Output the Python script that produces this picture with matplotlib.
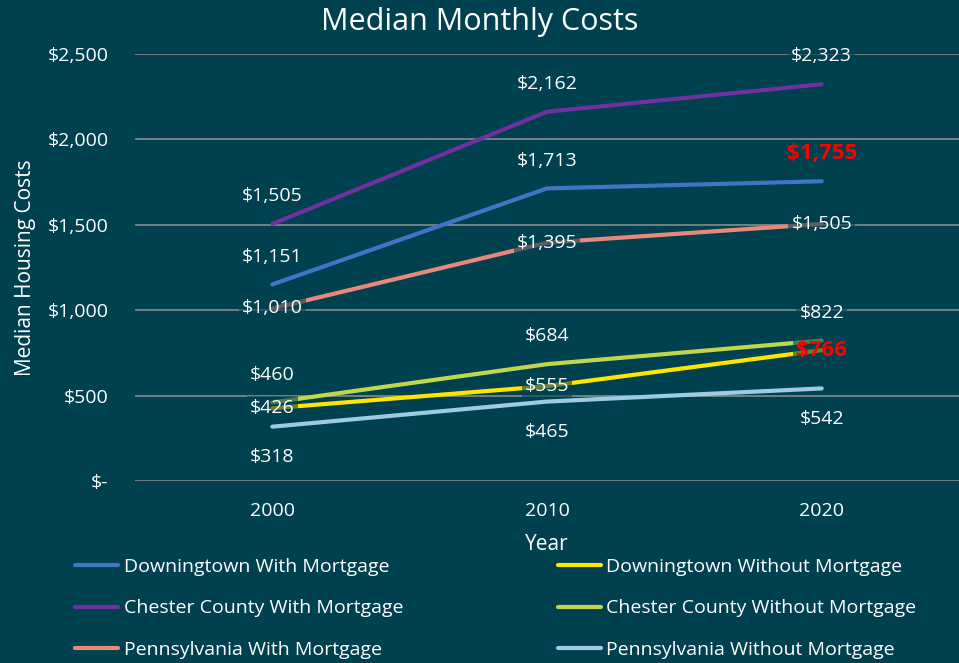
import matplotlib.pyplot as plt
from matplotlib.ticker import FuncFormatter

plt.rcParams['font.family'] = ['Open Sans', 'DejaVu Sans']

years = ['2000', '2010', '2020']
dt_with = [1151, 1713, 1755]
dt_without = [426, 555, 766]
cc_with = [1505, 2162, 2323]
cc_without = [460, 684, 822]
pa_with = [1010, 1395, 1505]
pa_without = [318, 465, 542]

bg = '#00414F'
fg = 'white'

# name, values, colour, label placement
series = [
    ('Downingtown With Mortgage', dt_with, '#4472C4', 'above'),
    ('Chester County With Mortgage', cc_with, '#7030A0', 'above'),
    ('Pennsylvania With Mortgage', pa_with, '#E9877A', 'center'),
    ('Downingtown Without Mortgage', dt_without, '#FFE500', 'center'),
    ('Chester County Without Mortgage', cc_without, '#C2D64C', 'above'),
    ('Pennsylvania Without Mortgage', pa_without, '#9DCBE6', 'below'),
]
# the last point of the two Downingtown series is highlighted
highlight = {'Downingtown With Mortgage', 'Downingtown Without Mortgage'}

fig = plt.figure(figsize=(9.59, 6.63), dpi=100, facecolor=bg)
ax = fig.add_axes([135 / 959, 1 - 481 / 663, 1 - 135 / 959, (481 - 54) / 663])
ax.set_facecolor(bg)

x = list(range(len(years)))
handles = []
for name, vals, col, pos in series:
    h, = ax.plot(x, vals, color=col, lw=3, solid_capstyle='round', label=name, zorder=2)
    handles.append(h)
    for i, v in enumerate(vals):
        dy = {'above': 20, 'center': 0, 'below': -22}[pos]
        last = (i == len(vals) - 1 and name in highlight)
        ax.annotate(f'${v:,}', (i, v), xytext=(0, dy), textcoords='offset points',
                    ha='center', va='center',
                    color='red' if last else fg,
                    fontsize=16 if last else 14,
                    fontweight='bold' if last else 'normal',
                    bbox=dict(boxstyle='square,pad=0.15', fc=bg, ec='none', alpha=0.6),
                    zorder=3)

ax.set_xlim(-0.5, 2.5)
ax.set_ylim(0, 2500)
ax.set_yticks([0, 500, 1000, 1500, 2000, 2500])
ax.yaxis.set_major_formatter(FuncFormatter(lambda v, p: '$-' if v == 0 else f'${v:,.0f}'))
ax.set_xticks(x)
ax.set_xticklabels(years)
ax.grid(axis='y', color='#8A8A8A', lw=1.2, zorder=0)
ax.set_axisbelow(True)
for s in ax.spines.values():
    s.set_visible(False)
ax.tick_params(length=0, colors=fg, labelsize=14, pad=15)
ax.tick_params(axis='y', pad=19)

fig.text(0.5, 1 - 22 / 663, 'Median Monthly Costs', color=fg, fontsize=22,
         ha='center', va='center')
ax.set_xlabel('Year', color=fg, fontsize=15, labelpad=10)
ax.set_ylabel('Median Housing Costs', color=fg, fontsize=15, labelpad=8)

leg = fig.legend(handles=handles, loc='lower left', bbox_to_anchor=(0.06, -0.02),
                 ncol=2, frameon=False, fontsize=14, labelcolor=fg,
                 handlelength=2.2, handletextpad=0.3, columnspacing=7.95,
                 labelspacing=1.2)

plt.savefig('out.png', dpi=100, facecolor=bg)
